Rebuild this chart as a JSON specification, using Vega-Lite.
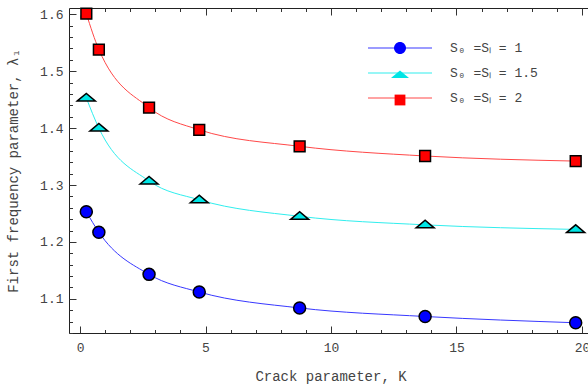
{
  "$schema": "https://vega.github.io/schema/vega-lite/v6.json",
  "width": 523,
  "height": 325,
  "autosize": {"type": "none"},
  "padding": {"left": 69, "top": 8, "right": 0, "bottom": 51},
  "background": "white",
  "config": {"view": {"stroke": "#222", "strokeWidth": 1}, "font": "Liberation Mono", "axis": {"labelOverlap": false}},
  "data": {
    "values": [
      {"series": "S₀ =Sₗ = 1", "K": 0.25, "lambda": 1.253},
      {"series": "S₀ =Sₗ = 1", "K": 0.75, "lambda": 1.217},
      {"series": "S₀ =Sₗ = 1", "K": 2.75, "lambda": 1.143},
      {"series": "S₀ =Sₗ = 1", "K": 4.75, "lambda": 1.112},
      {"series": "S₀ =Sₗ = 1", "K": 8.75, "lambda": 1.084},
      {"series": "S₀ =Sₗ = 1", "K": 13.75, "lambda": 1.069},
      {"series": "S₀ =Sₗ = 1", "K": 19.75, "lambda": 1.058},
      {"series": "S₀ =Sₗ = 1.5", "K": 0.25, "lambda": 1.453},
      {"series": "S₀ =Sₗ = 1.5", "K": 0.75, "lambda": 1.400},
      {"series": "S₀ =Sₗ = 1.5", "K": 2.75, "lambda": 1.307},
      {"series": "S₀ =Sₗ = 1.5", "K": 4.75, "lambda": 1.274},
      {"series": "S₀ =Sₗ = 1.5", "K": 8.75, "lambda": 1.245},
      {"series": "S₀ =Sₗ = 1.5", "K": 13.75, "lambda": 1.230},
      {"series": "S₀ =Sₗ = 1.5", "K": 19.75, "lambda": 1.222},
      {"series": "S₀ =Sₗ = 2", "K": 0.25, "lambda": 1.601},
      {"series": "S₀ =Sₗ = 2", "K": 0.75, "lambda": 1.538},
      {"series": "S₀ =Sₗ = 2", "K": 2.75, "lambda": 1.436},
      {"series": "S₀ =Sₗ = 2", "K": 4.75, "lambda": 1.397},
      {"series": "S₀ =Sₗ = 2", "K": 8.75, "lambda": 1.368},
      {"series": "S₀ =Sₗ = 2", "K": 13.75, "lambda": 1.351},
      {"series": "S₀ =Sₗ = 2", "K": 19.75, "lambda": 1.342}
    ]
  },
  "layer": [
    {
      "mark": {"type": "line", "interpolate": "monotone", "strokeWidth": 1},
      "encoding": {
        "x": {
          "field": "K", "type": "quantitative",
          "scale": {"domain": [-0.44, 20.4], "nice": false, "zero": false},
          "axis": {
            "orient": "bottom",
            "values": [0,1,2,3,4,5,6,7,8,9,10,11,12,13,14,15,16,17,18,19,20],
            "domain": false, "grid": false,
            "tickSize": {"condition": {"test": "datum.value % 5 === 0", "value": -7}, "value": -3.5},
            "tickColor": "#333", "tickWidth": 1,
            "labelExpr": "datum.value % 5 === 0 ? datum.label : ''",
            "labelFont": "Liberation Mono", "labelFontSize": 13, "labelColor": "#444",
            "labelPadding": 15, "labelOverlap": false, "labelFlush": false,
            "title": "Crack parameter, K", "titleFont": "Liberation Mono", "titleFontSize": 14,
            "titleFontWeight": "normal", "titleColor": "#444", "titlePadding": 12
          }
        },
        "y": {
          "field": "lambda", "type": "quantitative",
          "scale": {"domain": [1.04, 1.611], "nice": false, "zero": false},
          "axis": {
            "orient": "left",
            "values": [1.04,1.06,1.08,1.1,1.12,1.14,1.16,1.18,1.2,1.22,1.24,1.26,1.28,1.3,1.32,1.34,1.36,1.38,1.4,1.42,1.44,1.46,1.48,1.5,1.52,1.54,1.56,1.58,1.6],
            "format": ".1f",
            "domain": false, "grid": false,
            "tickSize": {"condition": {"test": "abs(datum.value*10 - round(datum.value*10)) < 0.001", "value": -7}, "value": -3.5},
            "tickColor": "#333", "tickWidth": 1,
            "labelExpr": "abs(datum.value*10 - round(datum.value*10)) < 0.001 ? datum.label : ''",
            "labelFont": "Liberation Mono", "labelFontSize": 13, "labelColor": "#444",
            "labelPadding": 13, "labelOverlap": false, "labelFlush": false,
            "title": "First frequency parameter, λ₁", "titleFont": "Liberation Mono", "titleFontSize": 14,
            "titleFontWeight": "normal", "titleColor": "#444", "titlePadding": 19
          }
        },
        "stroke": {
          "field": "series", "type": "nominal",
          "scale": {"domain": ["S₀ =Sₗ = 1", "S₀ =Sₗ = 1.5", "S₀ =Sₗ = 2"], "range": ["#3838ff", "#30eeee", "#ff4848"]},
          "legend": {
            "orient": "none", "legendX": 318, "legendY": 27, "title": null, "padding": 0,
            "symbolType": "M-2.67,0H2.67", "symbolSize": 576, "symbolStrokeWidth": 1.2,
            "rowPadding": 5, "labelOffset": 37, "labelFont": "Liberation Mono", "labelFontSize": 13,
            "labelColor": "#444", "labelLimit": 0, "zindex": 0
          }
        }
      }
    },
    {
      "mark": {"type": "point", "filled": true, "stroke": "black", "strokeWidth": 1.5, "size": 576, "opacity": 1},
      "encoding": {
        "x": {
          "field": "K", "type": "quantitative",
          "axis": {
            "orient": "top",
            "values": [0,1,2,3,4,5,6,7,8,9,10,11,12,13,14,15,16,17,18,19,20],
            "domain": false, "grid": false, "labels": false, "title": null, "ticks": true,
            "tickSize": {"condition": {"test": "datum.value % 5 === 0", "value": -7}, "value": -3.5},
            "tickColor": "#333", "tickWidth": 1, "zindex": 1
          }
        },
        "y": {
          "field": "lambda", "type": "quantitative",
          "axis": {
            "orient": "left",
            "values": [1.04,1.06,1.08,1.1,1.12,1.14,1.16,1.18,1.2,1.22,1.24,1.26,1.28,1.3,1.32,1.34,1.36,1.38,1.4,1.42,1.44,1.46,1.48,1.5,1.52,1.54,1.56,1.58,1.6],
            "format": ".1f",
            "domain": false, "grid": false,
            "tickSize": {"condition": {"test": "abs(datum.value*10 - round(datum.value*10)) < 0.001", "value": -7}, "value": -3.5},
            "tickColor": "#333", "tickWidth": 1,
            "labelExpr": "abs(datum.value*10 - round(datum.value*10)) < 0.001 ? datum.label : ''",
            "labelFont": "Liberation Mono", "labelFontSize": 13, "labelColor": "#444",
            "labelPadding": 13, "labelOverlap": false, "labelFlush": false,
            "title": "First frequency parameter, λ₁", "titleFont": "Liberation Mono", "titleFontSize": 14,
            "titleFontWeight": "normal", "titleColor": "#444", "titlePadding": 19
          }
        },
        "fill": {
          "field": "series", "type": "nominal",
          "scale": {"range": ["#0000ff", "#00e5e5", "#ff0000"]},
          "legend": {
            "orient": "none", "legendX": 318, "legendY": 27, "title": null, "padding": 0,
            "symbolSize": 576, "symbolStrokeColor": "black", "symbolStrokeWidth": 1.5,
            "rowPadding": 5, "labelOffset": 37, "labelFont": "Liberation Mono", "labelFontSize": 13,
            "labelOpacity": 0, "labelLimit": 0, "zindex": 1
          }
        },
        "shape": {
          "field": "series", "type": "nominal",
          "scale": {"range": [
            "M-0.5,0A0.5,0.5,0,1,1,0.5,0A0.5,0.5,0,1,1,-0.5,0Z",
            "M-0.75,0.25L0,-0.38L0.75,0.25Z",
            "M-0.45,-0.45H0.45V0.45H-0.45Z"
          ]},
          "legend": {
            "orient": "none", "legendX": 318, "legendY": 27, "title": null, "padding": 0,
            "symbolSize": 576, "symbolStrokeColor": "black", "symbolStrokeWidth": 1.5,
            "rowPadding": 5, "labelOffset": 37, "labelFont": "Liberation Mono", "labelFontSize": 13,
            "labelOpacity": 0, "labelLimit": 0, "zindex": 1
          }
        }
      }
    }
  ],
  "resolve": {"axis": {"x": "independent"}}
}
